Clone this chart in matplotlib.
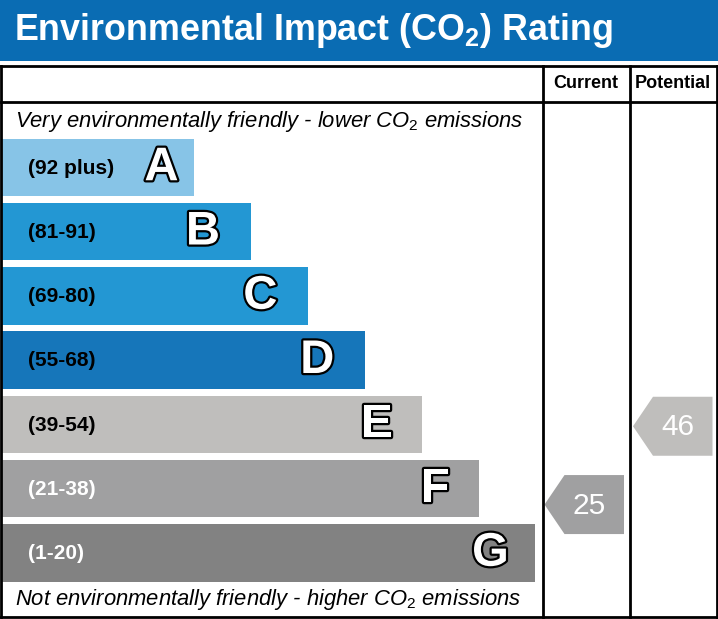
import matplotlib
matplotlib.use("Agg")
import matplotlib.pyplot as plt
from matplotlib.patches import Rectangle, Polygon
import matplotlib.patheffects as pe

plt.rcParams["mathtext.fontset"] = "custom"
plt.rcParams["mathtext.rm"] = "Liberation Sans"
plt.rcParams["mathtext.it"] = "Liberation Sans:italic"
plt.rcParams["mathtext.bf"] = "Liberation Sans:bold"

# ---- data ----
bands = ["A", "B", "C", "D", "E", "F", "G"]
range_labels = ["(92 plus)", "(81-91)", "(69-80)", "(55-68)", "(39-54)", "(21-38)", "(1-20)"]
band_min = [92, 81, 69, 55, 39, 21, 1]
band_max = [100, 91, 80, 68, 54, 38, 20]
band_colors = ["#87c4e7", "#2397d3", "#2397d3", "#1676ba", "#bfbebc", "#a0a0a1", "#828282"]
label_colors = ["black", "black", "black", "black", "black", "white", "white"]
current_rating = 25
potential_rating = 46
title = r"Environmental Impact (CO$_\mathbf{2}$) Rating"
top_text = r"Very environmentally friendly - lower CO$_\mathrm{2}$ emissions"
bottom_text = r"Not environmentally friendly - higher CO$_\mathrm{2}$ emissions"
col_headers = ["Current", "Potential"]

# ---- layout ----
W, H = 718, 619
FONT = ["Liberation Sans", "DejaVu Sans"]
fig = plt.figure(figsize=(W / 100, H / 100), dpi=100)
ax = fig.add_axes([0, 0, 1, 1])
ax.set_xlim(0, W)
ax.set_ylim(H, 0)
ax.axis("off")

header_blue = "#0a6cb3"
ax.add_patch(Rectangle((0, 0), W, 61, color=header_blue, lw=0))
ax.text(14, 30, title, color="white", fontsize=25.8, fontweight="bold",
        family=FONT, va="center", ha="left")

# table frame
left, right, top, bottom = 1, 716.5, 66, 617
col1, col2 = 542.5, 630
header_line = 102
lw = 2.0
for (x0, y0, x1, y1) in [(left, top, right, top), (left, bottom, right, bottom),
                         (left, top, left, bottom), (right, top, right, bottom),
                         (left, header_line, right, header_line),
                         (col1, top, col1, bottom), (col2, top, col2, bottom)]:
    ax.plot([x0, x1], [y0, y1], color="black", lw=lw, solid_capstyle="projecting")

ax.text((col1 + col2) / 2, 84, col_headers[0], fontsize=13, fontweight="bold",
        family=FONT, ha="center", va="center")
ax.text((col2 + right) / 2, 84, col_headers[1], fontsize=13, fontweight="bold",
        family=FONT, ha="center", va="center")

ax.text(15, 121, top_text, fontsize=15.8, style="italic", family=FONT,
        ha="left", va="center")
ax.text(15, 599, bottom_text, fontsize=15.8, style="italic", family=FONT,
        ha="left", va="center")

bar_x0 = 2
first_top = 138.5
pitch = 64.25
bar_h = 57.5
first_len = 192
len_step = 56.9
letter_inset = [32.5, 48, 47.5, 47.5, 45, 43.5, 45]  # letter centre distance from bar end

band_centers = []
for i, (b, rl, c, lc) in enumerate(zip(bands, range_labels, band_colors, label_colors)):
    y0 = first_top + i * pitch
    length = first_len + i * len_step
    ax.add_patch(Rectangle((bar_x0, y0), length, bar_h, color=c, lw=0))
    yc = y0 + bar_h / 2
    band_centers.append(yc)
    ax.text(28, yc + 1, rl, fontsize=15, fontweight="bold", color=lc,
            family=FONT, ha="left", va="center")
    t = ax.text(bar_x0 + length - letter_inset[i], yc + 1, b, fontsize=34,
                fontweight="bold", color="white", family=FONT,
                ha="center", va="center")
    t.set_path_effects([pe.Stroke(linewidth=3.2, foreground="black"), pe.Normal()])


def rating_y(value):
    for i in range(len(bands)):
        if band_min[i] <= value <= band_max[i]:
            mid = (band_min[i] + band_max[i]) / 2
            span = band_max[i] - band_min[i] + 1
            return band_centers[i] + (mid - value) / span * pitch, i
    return band_centers[-1], len(bands) - 1


def draw_arrow(x_left, value):
    yc, i = rating_y(value)
    half = 29.5
    tip = 20
    width = 79.5
    pts = [(x_left, yc), (x_left + tip, yc - half), (x_left + width, yc - half),
           (x_left + width, yc + half), (x_left + tip, yc + half)]
    ax.add_patch(Polygon(pts, closed=True, color=band_colors[i], lw=0))
    ax.text(x_left + 45, yc + 1, str(value), fontsize=21.5, color="white",
            family=FONT, ha="center", va="center")


draw_arrow(col1 + 2, current_rating)
draw_arrow(col2 + 3, potential_rating)

fig.savefig("out.png", dpi=100)
